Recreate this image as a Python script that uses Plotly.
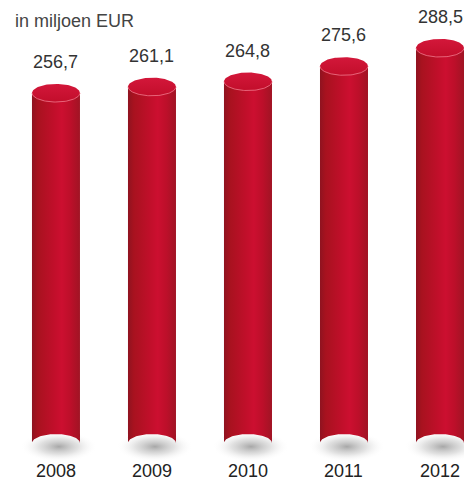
import numpy as np
import plotly.graph_objects as go

years = ["2008", "2009", "2010", "2011", "2012"]
values = [256.7, 261.1, 264.8, 275.6, 288.5]
labels = ["256,7", "261,1", "264,8", "275,6", "288,5"]
subtitle = "in miljoen EUR"

# style constants
BASE = 9.3          # axis value where cylinders stand
HALF_W = 0.25       # half width of cylinder (x units)
ELL_H = 6.4         # half height of ellipse (y units)
Y_RANGE = [-18.2, 322.4]
X_RANGE = [-0.583, 4.25]
FONT = "Liberation Sans"

t_front = np.linspace(np.pi, 2 * np.pi, 60)   # lower (front) half
t_back = np.linspace(2 * np.pi, np.pi, 60)
t_full = np.linspace(0, 2 * np.pi, 120)

fig = go.Figure()
for i, v in enumerate(values):
    # soft shadow
    sx = i + 0.03 + (HALF_W * 1.6) * np.cos(t_full)
    sy = BASE - 2.5 + (ELL_H * 1.7) * np.sin(t_full)
    fig.add_trace(go.Scatter(
        x=sx, y=sy, mode="lines", line=dict(width=0), fill="toself",
        fillgradient=dict(type="radial",
                          colorscale=[[0, "rgba(60,60,60,0.45)"], [0.5, "rgba(120,120,120,0.22)"],
                                      [1, "rgba(255,255,255,0)"]]),
        hoverinfo="skip", showlegend=False))
    # body
    bx = np.concatenate([[i - HALF_W, i - HALF_W, i + HALF_W, i + HALF_W],
                         i + HALF_W * np.cos(t_back)])
    by = np.concatenate([[BASE, v, v, BASE],
                         BASE - ELL_H * np.sin(t_back)])
    fig.add_trace(go.Scatter(
        x=bx, y=by, mode="lines", line=dict(width=0), fill="toself",
        fillgradient=dict(type="horizontal",
                          colorscale=[[0, "#8f1320"], [0.12, "#a8121f"], [0.45, "#c00f2a"],
                                      [0.62, "#cc0f30"], [0.8, "#bd0f2a"], [1, "#a01424"]]),
        hoverinfo="skip", showlegend=False))
    # top ellipse
    tx = i + HALF_W * np.cos(t_full)
    ty = v + ELL_H * np.sin(t_full)
    fig.add_trace(go.Scatter(
        x=tx, y=ty, mode="lines", line=dict(width=0), fill="toself",
        fillgradient=dict(type="vertical",
                          colorscale=[[0, "#c20e2b"], [1, "#d3173a"]]),
        hoverinfo="skip", showlegend=False))
    # rim highlight on front edge
    rx = i + HALF_W * np.cos(t_front)
    ry = v + ELL_H * np.sin(t_front)
    fig.add_trace(go.Scatter(
        x=rx, y=ry, mode="lines", line=dict(width=1, color="rgba(240,120,140,0.8)"),
        hoverinfo="skip", showlegend=False))

annotations = []
for i, (v, lab) in enumerate(zip(values, labels)):
    annotations.append(dict(x=i, y=v, xref="x", yref="y", text=lab, showarrow=False,
                            yanchor="middle", yshift=31,
                            font=dict(family=FONT, size=18, color="#333333")))
for i, yr in enumerate(years):
    annotations.append(dict(x=i, y=0, xref="x", yref="paper", text=yr, showarrow=False,
                            yanchor="bottom", yshift=-1,
                            font=dict(family=FONT, size=18, color="#222222")))
annotations.append(dict(x=0.028, y=1, xref="paper", yref="paper", text=subtitle,
                        showarrow=False, xanchor="left", yanchor="top", yshift=-9,
                        font=dict(family=FONT, size=18, color="#444444")))

fig.update_layout(
    width=464, height=482, margin=dict(l=0, r=0, t=0, b=0),
    paper_bgcolor="white", plot_bgcolor="white",
    xaxis=dict(range=X_RANGE, visible=False, fixedrange=True),
    yaxis=dict(range=Y_RANGE, visible=False, fixedrange=True),
    annotations=annotations, showlegend=False,
)
fig.write_html("out.html", config={"displayModeBar": False},
               post_script="document.body.style.margin='0';document.body.style.overflow='hidden';")
